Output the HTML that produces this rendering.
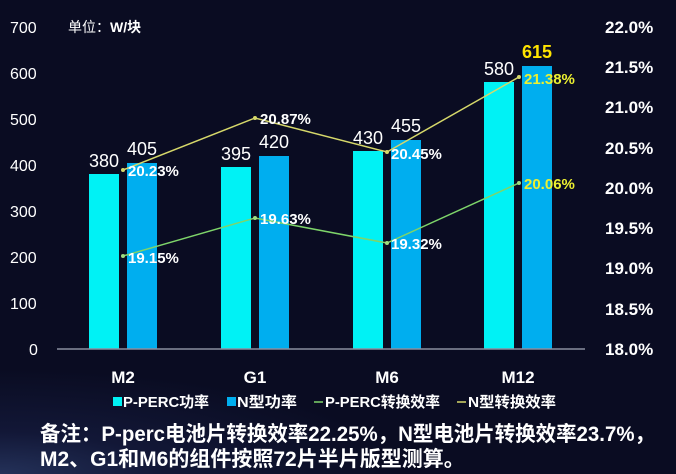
<!DOCTYPE html>
<html><head><meta charset="utf-8"><style>
html,body{margin:0;padding:0;width:676px;height:474px;overflow:hidden;background:#0b0d24;}
svg{display:block}
text{font-family:"Liberation Sans","Noto Sans CJK SC",sans-serif;}
</style></head><body>
<svg width="676" height="474" viewBox="0 0 676 474">
<defs>
<radialGradient id="bg" cx="0" cy="1" r="0.6">
<stop offset="0" stop-color="#2a3a66"/><stop offset="0.4" stop-color="#141a3c"/><stop offset="1" stop-color="#0a0c22"/>
</radialGradient>
</defs>
<rect width="676" height="474" fill="#0a0c22"/>
<rect x="0" y="300" width="676" height="174" fill="url(#bg)" opacity="0.8"/>
<g fill="#fff" font-size="16">
<text x="10" y="33">700</text><text x="10" y="79">600</text><text x="10" y="125">500</text>
<text x="10" y="171">400</text><text x="10" y="217">300</text><text x="10" y="263">200</text>
<text x="10" y="309">100</text><text x="29" y="355">0</text>
</g>
<text x="68" y="32" fill="#fff" font-size="14">单位：<tspan font-weight="bold">W/块</tspan></text>
<g fill="#fff" font-size="17" font-weight="bold">
<text x="605" y="33">22.0%</text><text x="605" y="73">21.5%</text><text x="605" y="113">21.0%</text>
<text x="605" y="154">20.5%</text><text x="605" y="194">20.0%</text><text x="605" y="234">19.5%</text>
<text x="605" y="274">19.0%</text><text x="605" y="315">18.5%</text><text x="605" y="355">18.0%</text>
</g>
<g fill="#00f2f5">
<rect x="89" y="174" width="30" height="175"/><rect x="221" y="167" width="30" height="182"/>
<rect x="353" y="151" width="30" height="198"/><rect x="484" y="82" width="30" height="267"/>
</g>
<g fill="#00aeef">
<rect x="127" y="163" width="30" height="186"/><rect x="259" y="156" width="30" height="193"/>
<rect x="391" y="140" width="30" height="209"/><rect x="522" y="66" width="30" height="283"/>
</g>
<line x1="57" y1="349" x2="585" y2="349" stroke="#8a8fa0" stroke-width="1.5"/>
<g fill="#fff" font-size="18">
<text x="104" y="167" text-anchor="middle">380</text><text x="142" y="155" text-anchor="middle">405</text>
<text x="236" y="160" text-anchor="middle">395</text><text x="274" y="148" text-anchor="middle">420</text>
<text x="368" y="144" text-anchor="middle">430</text><text x="406" y="132" text-anchor="middle">455</text>
<text x="499" y="75" text-anchor="middle">580</text>
</g>
<text x="537" y="58" fill="#ffe400" font-size="18" font-weight="bold" text-anchor="middle">615</text>
<polyline points="123,170 255,118 387,152 519,77" fill="none" stroke="#d6d86a" stroke-width="1.5"/>
<polyline points="123,256 255,218 387,243 519,183" fill="none" stroke="#7ed56a" stroke-width="1.5"/>
<g fill="#d6d86a"><circle cx="123" cy="170" r="2"/><circle cx="255" cy="118" r="2"/><circle cx="387" cy="152" r="2"/><circle cx="519" cy="77" r="2"/></g>
<g fill="#9fdc80"><circle cx="123" cy="256" r="2"/><circle cx="255" cy="218" r="2"/><circle cx="387" cy="243" r="2"/><circle cx="519" cy="183" r="2"/></g>
<g fill="#fff" font-size="15" font-weight="bold">
<text x="128" y="176">20.23%</text><text x="260" y="124">20.87%</text><text x="391" y="159">20.45%</text>
<text x="128" y="263">19.15%</text><text x="260" y="224">19.63%</text><text x="391" y="249">19.32%</text>
</g>
<g fill="#ecf030" font-size="15" font-weight="bold">
<text x="524" y="84">21.38%</text><text x="524" y="189">20.06%</text>
</g>
<g fill="#fff" font-size="17" font-weight="bold" text-anchor="middle">
<text x="123" y="383">M2</text><text x="255" y="383">G1</text><text x="387" y="383">M6</text><text x="518" y="383">M12</text>
</g>
<g font-size="15" font-weight="bold" fill="#fff">
<rect x="113" y="397" width="9" height="9" fill="#00f2f5"/><text x="123" y="407" textLength="86" lengthAdjust="spacingAndGlyphs">P-PERC功率</text>
<rect x="227" y="397" width="9" height="9" fill="#00aeef"/><text x="237" y="407" textLength="60" lengthAdjust="spacingAndGlyphs">N型功率</text>
<line x1="314" y1="402" x2="323" y2="402" stroke="#7ed56a" stroke-width="1.5"/><text x="325" y="407" textLength="115" lengthAdjust="spacingAndGlyphs">P-PERC转换效率</text>
<line x1="457" y1="402" x2="466" y2="402" stroke="#d6d86a" stroke-width="1.5"/><text x="468" y="407" textLength="88" lengthAdjust="spacingAndGlyphs">N型转换效率</text>
</g>
<g fill="#fff" font-size="21" font-weight="bold">
<text x="40" y="441" textLength="615" lengthAdjust="spacingAndGlyphs">备注：P-perc电池片转换效率22.25%，N型电池片转换效率23.7%，</text>
<text x="40" y="466">M2、G1和M6的组件按照72片半片版型测算。</text>
</g>
</svg>
</body></html>
